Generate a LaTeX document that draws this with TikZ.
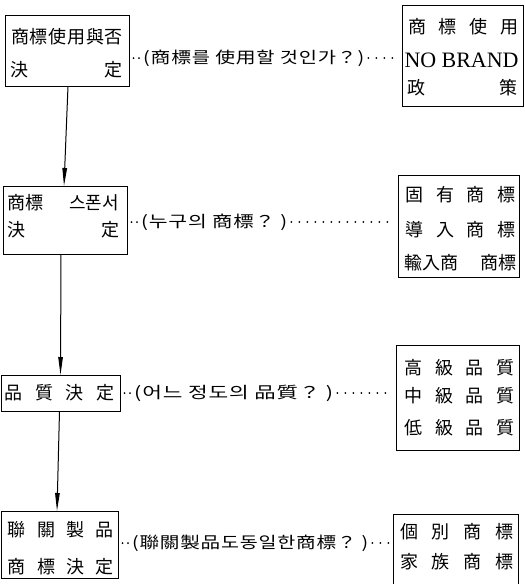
\documentclass[tikz,border=0pt]{standalone}
\usepackage{fontspec}
\usepackage{graphicx}
\setmainfont{Noto Sans CJK KR}
\newfontfamily\lblfont{Noto Sans CJK KR}[LetterSpace=4]
\newfontfamily\latinserif{Liberation Serif}
\usetikzlibrary{arrows.meta}
\newcommand\myspread[2]{\makebox[#1][s]{#2}}
\newcommand\fitw[2]{\resizebox{#1}{\height}{#2}}
\begin{document}
\begin{tikzpicture}[x=1pt,y=-1pt,
  box/.style={draw, line width=1pt, anchor=north west, inner sep=0pt, outer sep=0pt},
  txt/.style={inner sep=0pt, font=\fontsize{18}{21}\selectfont},
  lbl/.style={inner sep=0pt, anchor=west, font=\fontsize{16}{19}\lblfont},
  dotsA/.style={line width=2pt, line cap=round, dash pattern=on 0pt off 5.5pt, dash phase=1pt, shorten >=3pt},
  dotsB/.style={line width=2pt, line cap=round, dash pattern=on 0pt off 8pt, dash phase=4pt, shorten >=4pt},
  flow/.style={line width=1pt, -{Triangle[length=18pt,width=4.5pt]}}]
\useasboundingbox (0,0) rectangle (525,584);
\clip (0,0) rectangle (525,584);
% left boxes
\node[box, minimum width=124pt, minimum height=71pt] (b1) at (5,15) {};
\node[box, minimum width=124pt, minimum height=68pt] (b2) at (3,186) {};
\node[box, minimum width=119pt, minimum height=36pt] (b3) at (1,375) {};
\node[box, minimum width=117pt, minimum height=67pt] (b4) at (1,511) {};
% right boxes
\node[box, minimum width=121pt, minimum height=101pt] (r1) at (402,5) {};
\node[box, minimum width=121pt, minimum height=102pt] (r2) at (398,175) {};
\node[box, minimum width=123pt, minimum height=105pt] (r3) at (396,345) {};
\node[box, minimum width=125pt, minimum height=80pt] (r4) at (393,514) {};
% left box texts
\node[txt] (b1a) at (67,37) {\myspread{112pt}{商\hfill 標\hfill 使\hfill 用\hfill 與\hfill 否}};
\node[txt] (b1b) at (66,70) {\myspread{112pt}{決\hfill 定}};
\node[txt] (b2a) at (63,203) {\myspread{112pt}{商標\hfill 스폰서}};
\node[txt] (b2c) at (64,230) {\myspread{112pt}{決\hfill 定}};
\node[txt] (b3a) at (59.5,393) {\myspread{110pt}{品\hfill 質\hfill 決\hfill 定}};
\node[txt] (b4a) at (61,530) {\myspread{106pt}{聯\hfill 關\hfill 製\hfill 品}};
\node[txt] (b4b) at (61,567) {\myspread{106pt}{商\hfill 標\hfill 決\hfill 定}};
% right box texts
\node[txt] (r1a) at (463,27) {\myspread{110pt}{商\hfill 標\hfill 使\hfill 用}};
\node[txt] (r1b) at (461.5,60) {\latinserif\fontsize{20}{23}\selectfont\scalebox{1}[1.1]{\fitw{114pt}{NO BRAND}}};
\node[txt] (r1c) at (462.5,88) {\myspread{110pt}{政\hfill 策}};
\node[txt] (r2a) at (460.5,195) {\myspread{110pt}{固\hfill 有\hfill 商\hfill 標}};
\node[txt] (r2b) at (460.5,230) {\myspread{110pt}{導\hfill 入\hfill 商\hfill 標}};
\node[txt] (r2c) at (460.5,263) {\myspread{112pt}{輸入商\hfill 商標}};
\node[txt] (r3a) at (459.5,368) {\myspread{110pt}{高\hfill 級\hfill 品\hfill 質}};
\node[txt] (r3b) at (459.5,396) {\myspread{110pt}{中\hfill 級\hfill 品\hfill 質}};
\node[txt] (r3c) at (459.5,428) {\myspread{110pt}{低\hfill 級\hfill 品\hfill 質}};
\node[txt] (r4a) at (457,532) {\myspread{114pt}{個\hfill 別\hfill 商\hfill 標}};
\node[txt] (r4b) at (457,562) {\myspread{114pt}{家\hfill 族\hfill 商\hfill 標}};
% question labels
\node[lbl] (l1) at (143,58) {\fitw{221pt}{(商標를 使用할 것인가？)}};
\node[lbl] (l2) at (141,222) {\fitw{146pt}{(누구의 商標？ )}};
\node[lbl] (l3) at (134,393) {\fitw{199pt}{(어느 정도의 品質？ )}};
\node[lbl] (l4) at (132,543) {\fitw{236pt}{(聯關製品도동일한商標？ )}};
% dotted connectors
\draw[dotsA] (b1.east |- l1.west) -- (l1.west);
\draw[dotsB] (l1.east) -- (r1.west |- l1.east);
\draw[dotsA] (b2.east |- l2.west) -- (l2.west);
\draw[dotsB] (l2.east) -- (r2.west |- l2.east);
\draw[dotsA] (b3.east |- l3.west) -- (l3.west);
\draw[dotsB] (l3.east) -- (r3.west |- l3.east);
\draw[dotsA] (b4.east |- l4.west) -- (l4.west);
\draw[dotsB] (l4.east) -- (r4.west |- l4.east);
% flow arrows
\draw[flow] ([xshift=1pt]b1.south) -- ([xshift=-1pt]b2.north);
\draw[flow] ([xshift=-4pt]b2.south) -- (b3.north);
\draw[flow] ([xshift=-1pt]b3.south) -- ([xshift=-2.5pt]b4.north);
\end{tikzpicture}
\end{document}
